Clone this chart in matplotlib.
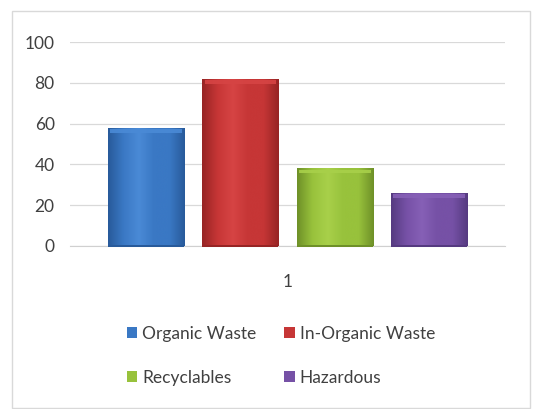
import numpy as np
import matplotlib.pyplot as plt
from matplotlib.patches import Rectangle
from matplotlib.colors import LinearSegmentedColormap

# data
categories = ["1"]
series_names = ["Organic Waste", "In-Organic Waste", "Recyclables", "Hazardous"]
series_values = [58, 82, 38, 26]
series_colors = ["#3a78c4", "#c63636", "#98c23c", "#7651a6"]
dark_colors = ["#285a9a", "#962424", "#6e9028", "#553a80"]
light_colors = ["#4a8ad6", "#d64444", "#a8d04a", "#8660b6"]
y_ticks = [0, 20, 40, 60, 80, 100]

plt.rcParams['font.family'] = ['Lato', 'DejaVu Sans']

fig = plt.figure(figsize=(5.38, 4.09), dpi=100)
ax = fig.add_axes([0.130, 0.399, 0.809, 0.498])

n = len(series_names)
width = 0.175
offsets = (np.arange(n) - (n - 1) / 2) * 0.217

handles = []
for i, name in enumerate(series_names):
    bars = ax.bar(0 + offsets[i], series_values[i], width, color=series_colors[i],
                  label=name, zorder=2, edgecolor="none")
    handles.append(bars)
    # soft bevel gradient across the bar
    cmap = LinearSegmentedColormap.from_list(
        "g%d" % i, [dark_colors[i], series_colors[i], light_colors[i],
                    series_colors[i], series_colors[i], dark_colors[i]])
    for b in bars:
        x0, w, h = b.get_x(), b.get_width(), b.get_height()
        grad = np.linspace(0, 1, 256).reshape(1, -1)
        im = ax.imshow(grad, cmap=cmap, aspect="auto", extent=[x0, x0 + w, 0, h],
                       zorder=3, interpolation="bicubic")
        im.set_clip_path(b)
        # light rim at the top
        ax.add_patch(Rectangle((x0 + w * 0.03, h - 2.4), w * 0.94, 1.8,
                               color=light_colors[i], alpha=0.9, zorder=4, lw=0))
        # dark base
        ax.add_patch(Rectangle((x0, -0.6), w, 1.2, color=dark_colors[i],
                               zorder=4, lw=0, clip_on=False))

ax.set_xlim(-0.5, 0.5)
ax.set_ylim(0, 100)
ax.set_yticks(y_ticks)
ax.set_xticks([0])
ax.set_xticklabels(categories)
ax.tick_params(axis="both", length=0, labelsize=12.5, colors="#404040")
ax.tick_params(axis="x", pad=20)
ax.tick_params(axis="y", pad=11)
ax.grid(axis="y", color="#d9d9d9", lw=0.9, zorder=0)
for s in ["top", "right", "left"]:
    ax.spines[s].set_visible(False)
ax.spines["bottom"].set_color("#d0d0d0")

# row-major order like the original: Organic, In-Organic / Recyclables, Hazardous
order = [0, 2, 1, 3]
fig.legend([handles[k] for k in order], [series_names[k] for k in order],
           loc="center", bbox_to_anchor=(0.522, 0.13), ncol=2, frameon=False,
           fontsize=12.5, handlelength=0.6, handleheight=0.6, handletextpad=0.3,
           columnspacing=1.6, labelspacing=1.6, labelcolor="#404040")

fig.add_artist(Rectangle((12 / 538, 1 / 409), 518 / 538, 397 / 409,
                         transform=fig.transFigure, fill=False,
                         edgecolor="#d9d9d9", lw=1))

fig.savefig("out.png", dpi=100)
